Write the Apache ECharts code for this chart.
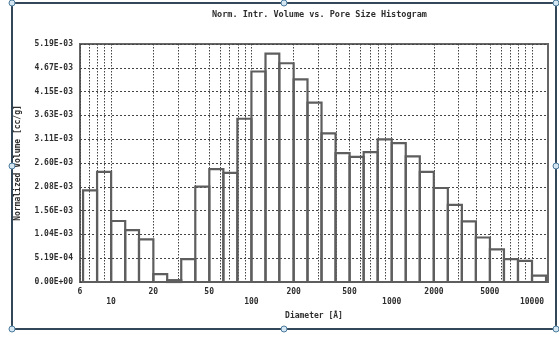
<!DOCTYPE html>
<html><head><meta charset="utf-8">
<script src="https://cdn.jsdelivr.net/npm/echarts@6/dist/echarts.min.js"></script>
<style>html,body{margin:0;padding:0;background:#fff}#c{width:559px;height:338px}</style>
</head><body><div id="c"></div>
<script>
// Bin edges (diameter)
const binEdges = [6.31, 7.94, 10, 12.6, 15.8, 20, 25.1, 31.6, 39.8, 50.1, 63.1, 79.4, 100, 126, 158, 200, 251, 316, 398, 501, 631, 794, 1000, 1259, 1585, 1995, 2512, 3162, 3981, 5012, 6310, 7943, 10000, 12589];
// Normalized volume per bin [cc/g]
const volumes = [2.00e-3, 2.40e-3, 1.33e-3, 1.13e-3, 0.93e-3, 0.17e-3, 0.04e-3, 0.50e-3, 2.08e-3, 2.46e-3, 2.38e-3, 3.56e-3, 4.59e-3, 4.98e-3, 4.77e-3, 4.42e-3, 3.91e-3, 3.24e-3, 2.81e-3, 2.73e-3, 2.83e-3, 3.11e-3, 3.03e-3, 2.74e-3, 2.40e-3, 2.05e-3, 1.68e-3, 1.32e-3, 0.97e-3, 0.71e-3, 0.50e-3, 0.46e-3, 0.14e-3];
const xTickLabels = [6, 10, 20, 50, 100, 200, 500, 1000, 2000, 5000, 10000];
const xDecadeLabels = [10, 100, 1000, 10000];
const xGridValues = [6, 7, 8, 9, 10, 20, 30, 40, 50, 60, 70, 80, 90, 100, 200, 300, 400, 500, 600, 700, 800, 900, 1000, 2000, 3000, 4000, 5000, 6000, 7000, 8000, 9000, 10000];
const yTickLabels = ['0.00E+00', '5.19E-04', '1.04E-03', '1.56E-03', '2.08E-03', '2.60E-03', '3.11E-03', '3.63E-03', '4.15E-03', '4.67E-03', '5.19E-03'];
const yInterval = 5.19e-4;
const yMax = 5.19e-3;

const mono = 'DejaVu Sans Mono';
const txt = { fontFamily: mono, fontSize: 8, fontWeight: 'bold', color: '#2e2e2e' };
const chart = echarts.init(document.getElementById('c'), null, { renderer: 'canvas' });

const barData = volumes.map((v, i) => [binEdges[i], binEdges[i + 1], v]);

chart.setOption({
  backgroundColor: '#ffffff',
  animation: false,
  title: {
    text: 'Norm. Intr. Volume vs. Pore Size Histogram',
    left: 207, top: 5,
    textStyle: { fontFamily: mono, fontSize: 8.5, fontWeight: 'bold', color: '#2e2e2e' }
  },
  grid: { left: 80, right: 11, top: 44, bottom: 56, show: true, borderColor: '#666', borderWidth: 2, backgroundColor: 'transparent' },
  xAxis: {
    type: 'log', logBase: 10, min: 6, max: 13000,
    name: 'Diameter [Å]', nameLocation: 'middle', nameGap: 28,
    nameTextStyle: txt,
    axisLine: { show: false },
    axisTick: { show: false, customValues: xGridValues },
    axisLabel: Object.assign({}, txt, {
      customValues: xTickLabels, margin: 5, lineHeight: 10,
      formatter: v => (xDecadeLabels.indexOf(Math.round(v)) >= 0 ? '\n' : '') + Math.round(v)
    }),
    splitLine: { show: true, lineStyle: { color: '#444', type: [1.5, 1.5], width: 1 } },
    minorSplitLine: { show: false }
  },
  yAxis: {
    type: 'value', min: 0, max: yMax, interval: yInterval,
    name: 'Normalized Volume [cc/g]', nameLocation: 'middle', nameGap: 58, nameRotate: 90,
    nameTextStyle: txt,
    axisLine: { show: false }, axisTick: { show: false },
    axisLabel: Object.assign({}, txt, { margin: 7, formatter: v => yTickLabels[Math.round(v / yInterval)] }),
    splitLine: { show: true, lineStyle: { color: '#444', type: [2, 2], width: 1 } }
  },
  series: [{
    type: 'custom',
    data: barData,
    encode: { x: [0, 1], y: 2 },
    renderItem: function (params, api) {
      const p0 = api.coord([api.value(0), api.value(2)]);
      const p1 = api.coord([api.value(1), 0]);
      return {
        type: 'rect',
        shape: { x: p0[0], y: p0[1], width: p1[0] - p0[0], height: p1[1] - p0[1] },
        style: { fill: 'none', stroke: '#5e5e5e', lineWidth: 2.2 }
      };
    }
  }],
  graphic: [
    { type: 'rect', shape: { x: 12, y: 3, width: 544, height: 326 }, style: { fill: 'none', stroke: '#33475a', lineWidth: 2 }, z: 100 }
  ].concat([[12,3],[284,3],[556,3],[12,166],[556,166],[12,329],[284,329],[556,329]].map(p => ({
    type: 'circle', shape: { cx: p[0], cy: p[1], r: 3 }, style: { fill: '#d4e6f2', stroke: '#4d7b9c', lineWidth: 1 }, z: 101
  })))
});
</script></body></html>
